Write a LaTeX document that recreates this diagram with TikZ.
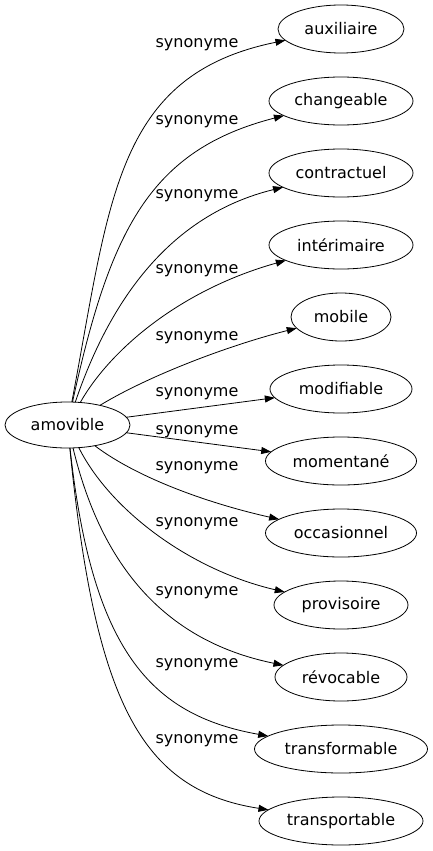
\documentclass[tikz,border=0pt]{standalone}
\usepackage{fontspec}
\setmainfont{DejaVu Sans}
\usetikzlibrary{positioning}
\usetikzlibrary{arrows.meta}
\usetikzlibrary{shapes.geometric}

\begin{document}
\begin{tikzpicture}[
    x=1pt, y=-1pt,
    word/.style={draw, ellipse, line width=0.8pt, minimum height=48pt, inner sep=0pt, outer sep=0pt, font=\fontsize{16}{19}\selectfont},
    rel/.style={inner sep=0pt, font=\fontsize{16}{19}\selectfont},
    syn/.style={-{Triangle[length=10pt, width=7pt]}, line width=0.8pt}
]
    \useasboundingbox (0,0) rectangle (433,851);

    % Source word
    \node[word, minimum width=125pt, minimum height=46pt] (amovible) at (67.5,425) {amovible};

    % Synonyms
    \node[word, minimum width=126pt] (auxiliaire) at (341,29) {auxiliaire};
    \node[word, minimum width=144pt, below=24pt of auxiliaire] (changeable) {changeable};
    \node[word, minimum width=144pt, below=24pt of changeable] (contractuel) {contractuel};
    \node[word, minimum width=144pt, below=24pt of contractuel] (interimaire) {intérimaire};
    \node[word, minimum width=100pt, below=24pt of interimaire] (mobile) {mobile};
    \node[word, minimum width=142pt, below=24pt of mobile] (modifiable) {modifiable};
    \node[word, minimum width=151pt, below=24pt of modifiable] (momentane) {momentané};
    \node[word, minimum width=151pt, below=24pt of momentane] (occasionnel) {occasionnel};
    \node[word, minimum width=134pt, below=24pt of occasionnel] (provisoire) {provisoire};
    \node[word, minimum width=132pt, below=24pt of provisoire] (revocable) {révocable};
    \node[word, minimum width=173pt, below=24pt of revocable] (transformable) {transformable};
    \node[word, minimum width=164pt, below=24pt of transformable] (transportable) {transportable};

    % Edge labels
    \node[rel] (s-auxiliaire) at (197,45) {synonyme};
    \node[rel] (s-changeable) at (197,122) {synonyme};
    \node[rel] (s-contractuel) at (197,196) {synonyme};
    \node[rel] (s-interimaire) at (197,271) {synonyme};
    \node[rel] (s-mobile) at (197,338) {synonyme};
    \node[rel] (s-modifiable) at (197,394) {synonyme};
    \node[rel] (s-momentane) at (197,432) {synonyme};
    \node[rel] (s-occasionnel) at (197,468) {synonyme};
    \node[rel] (s-provisoire) at (197,524) {synonyme};
    \node[rel] (s-revocable) at (197,593) {synonyme};
    \node[rel] (s-transformable) at (197,665) {synonyme};
    \node[rel] (s-transportable) at (197,741) {synonyme};

    % Arrows
    \draw[syn] (amovible) .. controls (110,200) and (115,75) .. (auxiliaire);
    \draw[syn] (amovible) .. controls (110,230) and (150,150) .. (changeable);
    \draw[syn] (amovible) .. controls (110,300) and (170,215) .. (contractuel);
    \draw[syn] (amovible) .. controls (110,350) and (180,290) .. (interimaire);
    \draw[syn] (amovible) .. controls (150,375) and (230,345) .. (mobile);
    \draw[syn] (amovible) -- (modifiable);
    \draw[syn] (amovible) -- (momentane);
    \draw[syn] (amovible) .. controls (140,480) and (215,505) .. (occasionnel);
    \draw[syn] (amovible) .. controls (110,510) and (190,570) .. (provisoire);
    \draw[syn] (amovible) .. controls (100,560) and (160,640) .. (revocable);
    \draw[syn] (amovible) .. controls (92,650) and (150,715) .. (transformable);
    \draw[syn] (amovible) .. controls (95,700) and (140,790) .. (transportable);
\end{tikzpicture}
\end{document}
